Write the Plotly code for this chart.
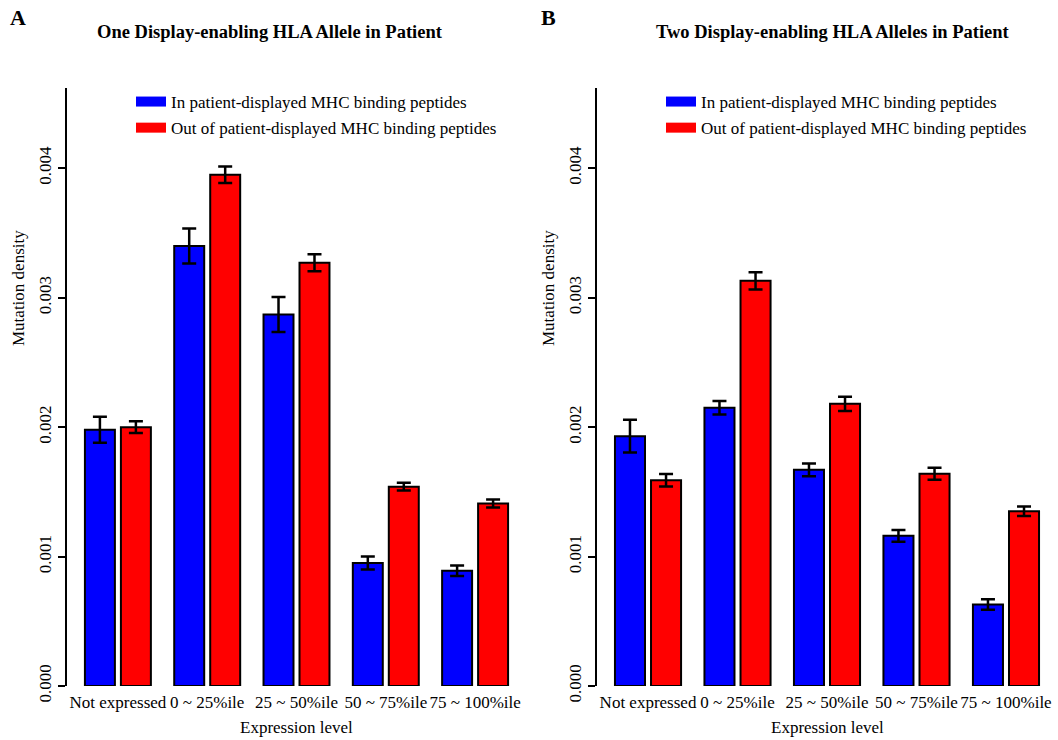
import plotly.graph_objects as go

categories = ["Not expressed", "0 ~ 25%ile", "25 ~ 50%ile", "50 ~ 75%ile", "75 ~ 100%ile"]
series_names = ["In patient-displayed MHC binding peptides", "Out of patient-displayed MHC binding peptides"]

# Panel A: One display-enabling HLA allele
a_in = [0.00198, 0.00340, 0.00287, 0.00095, 0.00089]
a_in_err = [0.00010, 0.000135, 0.000135, 0.00005, 0.00004]
a_out = [0.00200, 0.00395, 0.00327, 0.00154, 0.00141]
a_out_err = [0.000046, 0.000064, 0.000065, 0.00003, 0.00003]

# Panel B: Two display-enabling HLA alleles
b_in = [0.00193, 0.00215, 0.00167, 0.00116, 0.00063]
b_in_err = [0.000127, 0.000052, 0.000049, 0.000045, 0.00004]
b_out = [0.00159, 0.00313, 0.00218, 0.00164, 0.00135]
b_out_err = [0.000048, 0.000066, 0.000055, 0.000047, 0.000036]

y_ticks = [0.0, 0.001, 0.002, 0.003, 0.004]
y_ticktext = ["0.000", "0.001", "0.002", "0.003", "0.004"]

titles = ["One Display-enabling HLA Allele in Patient", "Two Display-enabling HLA Alleles in Patient"]
panel_letters = ["A", "B"]
x_title = "Expression level"
y_title = "Mutation density"

BLUE = "#0000FF"
RED = "#FF0000"
FONT = "Liberation Serif"
W, H = 1058, 740

fig = go.Figure()

panels = [
    ("x", "y", "legend", a_in, a_in_err, a_out, a_out_err),
    ("x2", "y2", "legend2", b_in, b_in_err, b_out, b_out_err),
]

for xa, ya, leg, vin, ein, vout, eout in panels:
    for name, vals, errs, col in [(series_names[0], vin, ein, BLUE), (series_names[1], vout, eout, RED)]:
        fig.add_trace(go.Bar(
            x=categories, y=vals, name=name, xaxis=xa, yaxis=ya,
            offsetgroup=name, showlegend=False,
            marker=dict(color=col, line=dict(color="black", width=2)),
            error_y=dict(type="data", array=errs, visible=True, color="black", thickness=2.5, width=7),
        ))
    for i, (name, col) in enumerate([(series_names[0], BLUE), (series_names[1], RED)]):
        fig.add_trace(go.Scatter(
            x=[None], y=[None], mode="lines", name=name, xaxis=xa, yaxis=ya,
            legend=leg, legendgroup=leg + str(i),
            line=dict(color=col, width=10), hoverinfo="skip",
        ))

ydom = [(H - 686) / H, (H - 88) / H]

axis_common_y = dict(
    range=[0, 0.00462], domain=ydom, showline=True, linecolor="black", linewidth=2,
    ticks="outside", ticklen=7, tickwidth=2, tickcolor="black",
    tickvals=y_ticks, ticktext=y_ticktext, tickangle=-90, automargin=False,
    showgrid=False, zeroline=False, tickfont=dict(family=FONT, size=17, color="black"),
)
axis_common_x = dict(
    type="category", categoryorder="array", categoryarray=categories, automargin=False,
    range=[-0.57, 4.57], showline=False, ticks="", showgrid=False, zeroline=False,
    ticklabelstandoff=4,
    tickfont=dict(family=FONT, size=17, color="black"),
)

legend_common = dict(
    xanchor="left", yanchor="top", bgcolor="rgba(0,0,0,0)", borderwidth=0,
    font=dict(family=FONT, size=17, color="black"), itemwidth=30,
    tracegroupgap=1, traceorder="grouped",
)

xdoms = [[67 / W, 526 / W], [597 / W, 1057 / W]]

fig.update_layout(
    width=W, height=H, margin=dict(l=0, r=0, t=0, b=0),
    paper_bgcolor="white", plot_bgcolor="white",
    barmode="group", bargap=0.194, bargroupgap=0.167,
    xaxis=dict(domain=xdoms[0], anchor="y", **axis_common_x),
    yaxis=dict(anchor="x", **axis_common_y),
    xaxis2=dict(domain=xdoms[1], anchor="y2", **axis_common_x),
    yaxis2=dict(anchor="x2", **axis_common_y),
    legend=dict(x=131 / W, y=1 - 84 / H, **legend_common),
    legend2=dict(x=661 / W, y=1 - 84 / H, **legend_common),
    showlegend=True,
)

annotations = []
for cx, lx, ytx, title, letter, dom in [(270, 18, 18, titles[0], panel_letters[0], xdoms[0]),
                                         (833, 548, 548, titles[1], panel_letters[1], xdoms[1])]:
    annotations.append(dict(text="<b>" + title + "</b>", x=cx / W, y=1 - 32 / H, xref="paper", yref="paper",
                            xanchor="center", yanchor="middle", showarrow=False,
                            font=dict(family=FONT, size=18.5, color="black")))
    annotations.append(dict(text="<b>" + letter + "</b>", x=lx / W, y=1 - 18 / H, xref="paper", yref="paper",
                            xanchor="center", yanchor="middle", showarrow=False,
                            font=dict(family=FONT, size=22, color="black")))
    annotations.append(dict(text=y_title, x=ytx / W, y=1 - 288 / H, xref="paper", yref="paper",
                            xanchor="center", yanchor="middle", showarrow=False, textangle=-90,
                            font=dict(family=FONT, size=17, color="black")))
    annotations.append(dict(text=x_title, x=(dom[0] + dom[1]) / 2, y=1 - 727 / H, xref="paper", yref="paper",
                            xanchor="center", yanchor="middle", showarrow=False,
                            font=dict(family=FONT, size=17, color="black")))
fig.update_layout(annotations=annotations)

fig.write_html("out.html")
